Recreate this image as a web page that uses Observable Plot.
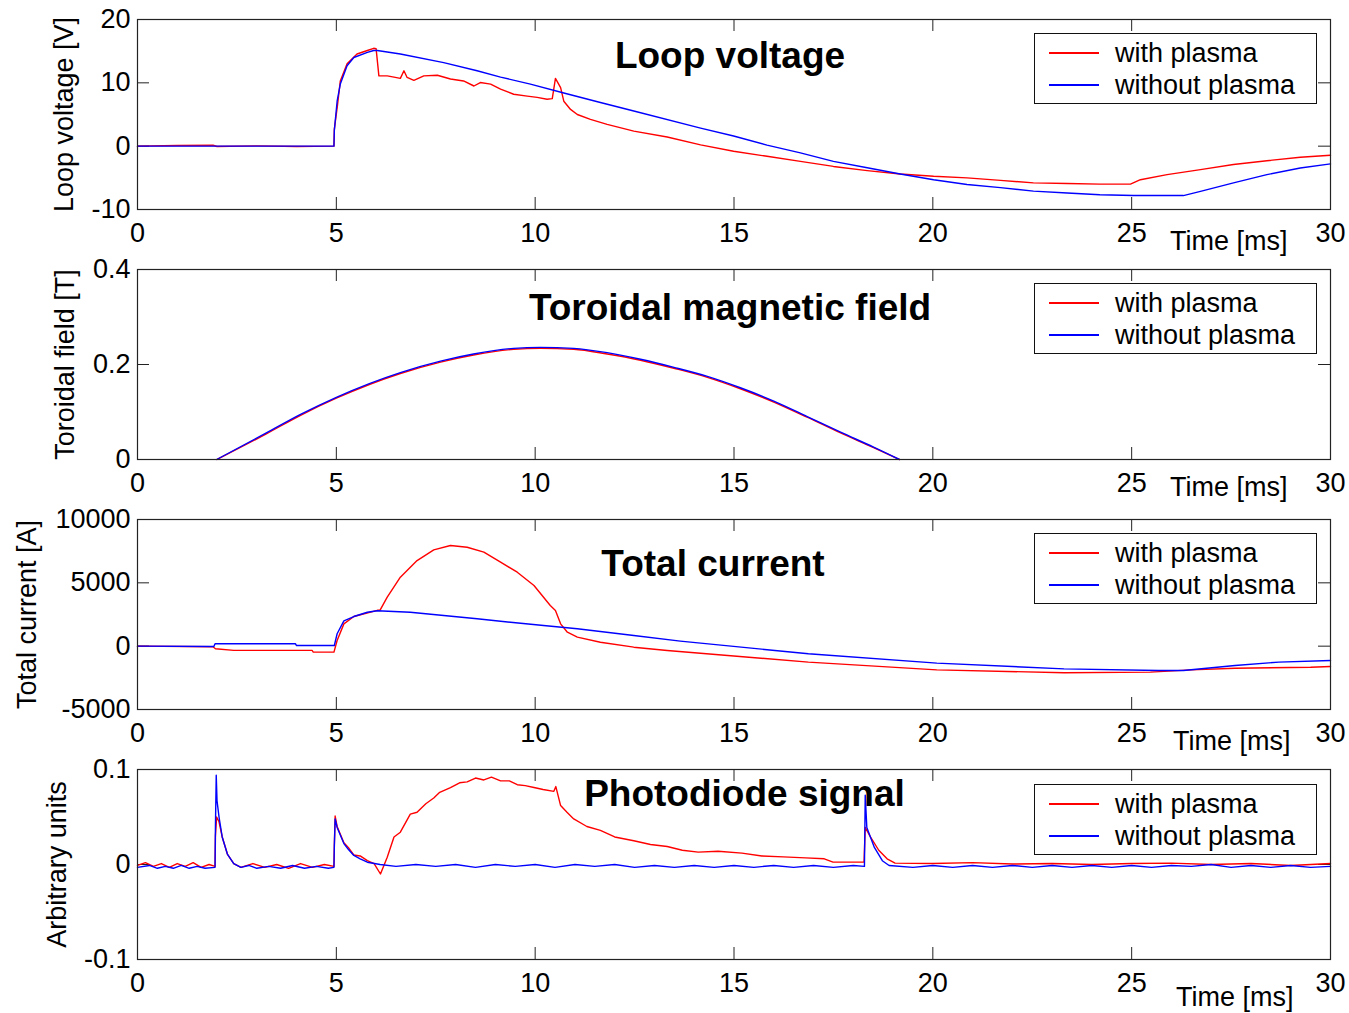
<!DOCTYPE html>
<html>
<head>
<meta charset="utf-8">
<script src="https://cdn.jsdelivr.net/npm/d3@7"></script>
<script src="https://cdn.jsdelivr.net/npm/@observablehq/plot@0.6"></script>
<style>
  html, body { margin: 0; padding: 0; background: #fff; }
  #chart { position: relative; width: 1349px; height: 1013px; font-family: "Liberation Sans", Arial, sans-serif; }
  .panel { position: absolute; left: 0; }
  .legend { position: absolute; left: 1034px; width: 283px; height: 71px; box-sizing: border-box; border: 1px solid #111; background: #fff; }
  .legend .ln { position: absolute; left: 14px; width: 50px; height: 2px; }
  .legend .tx { position: absolute; left: 80px; height: 38px; line-height: 38px; font-size: 27px; color: #000; white-space: nowrap; }
</style>
</head>
<body>
<div id="chart"></div>
<script>
// ---------- labels ----------
const seriesNames = ["with plasma", "without plasma"];
const seriesColors = ["#ff0000", "#0000ff"];
const titles = ["Loop voltage", "Toroidal magnetic field", "Total current", "Photodiode signal"];
const yLabels = ["Loop voltage [V]", "Toroidal field [T]", "Total current [A]", "Arbitrary units"];
const xLabel = "Time [ms]";
const xTicks = [0, 5, 10, 15, 20, 25, 30];
const yTicksLoop = [-10, 0, 10, 20];
const yTicksField = [0, 0.2, 0.4];
const yTicksCurrent = [-5000, 0, 5000, 10000];
const yTicksDiode = [-0.1, 0, 0.1];

// ---------- data: [time ms, value] ----------
const loopWith = [[0,0],[1,0.1],[1.9,0.15],[2,-0.05],[3,0.05],[4,-0.05],[4.94,0],[4.95,2.7],[5.03,6.5],[5.1,10.3],[5.27,13.0],[5.52,14.55],[5.78,15.1],[5.94,15.45],[6.0,15.4],[6.07,11.1],[6.28,11.1],[6.45,10.9],[6.61,10.7],[6.7,11.9],[6.78,10.85],[6.95,10.4],[7.2,11.1],[7.54,11.2],[7.87,10.6],[8.2,10.3],[8.46,9.5],[8.62,10.05],[8.88,9.8],[9.13,9.0],[9.46,8.2],[9.8,7.9],[10.05,7.7],[10.3,7.4],[10.43,7.5],[10.51,10.7],[10.64,9.25],[10.72,7.1],[10.89,5.8],[11.06,5.0],[11.39,4.24],[11.81,3.44],[12.48,2.38],[13.32,1.45],[14.16,0.2],[14.99,-0.8],[15.83,-1.6],[16.67,-2.4],[17.5,-3.2],[18.35,-3.86],[19.18,-4.4],[20.02,-4.76],[20.86,-5.0],[21.7,-5.4],[22.53,-5.8],[23.38,-5.9],[24.2,-6.0],[24.97,-6.0],[25.22,-5.3],[25.89,-4.5],[26.73,-3.7],[27.56,-2.9],[28.4,-2.3],[29.24,-1.75],[30,-1.43]];
const loopWithout = [[0,0],[4.94,0],[4.95,2.5],[5.02,7.1],[5.1,9.8],[5.27,12.7],[5.44,14.0],[5.78,14.8],[5.94,15.1],[6.03,15.1],[6.61,14.55],[7.7,13.2],[8.54,11.9],[9.13,10.9],[9.88,9.8],[10.72,8.4],[11.64,6.9],[12.48,5.56],[14.16,2.85],[14.99,1.6],[15.83,0.16],[16.67,-1.06],[17.5,-2.4],[18.35,-3.4],[19.18,-4.4],[20.02,-5.3],[20.86,-6.05],[21.7,-6.55],[22.53,-7.1],[23.38,-7.4],[24.2,-7.67],[25.05,-7.8],[26.3,-7.8],[26.73,-7.14],[27.56,-5.8],[28.4,-4.5],[29.24,-3.44],[30,-2.8]];

const fieldWith = [[2.0,0],[3.24,0.054],[4.1,0.093],[5.0,0.129],[6.61,0.181],[7.62,0.205],[8.45,0.220],[9.46,0.232],[10.13,0.234],[10.97,0.232],[11.81,0.222],[12.65,0.209],[13.49,0.192],[14.33,0.173],[15.16,0.149],[16.0,0.121],[16.84,0.089],[17.68,0.056],[18.51,0.025],[19.16,0]];
const fieldWithout = [[1.99,0],[3.24,0.056],[4.1,0.095],[5.0,0.131],[6.61,0.183],[7.62,0.207],[8.45,0.222],[9.46,0.234],[10.13,0.236],[10.97,0.234],[11.81,0.225],[12.65,0.211],[13.49,0.194],[14.33,0.175],[15.16,0.151],[16.0,0.123],[16.84,0.0905],[17.68,0.0575],[18.51,0.026],[19.16,0]];

const currentWith = [[0,0],[1.9,-50],[1.96,-200],[2.42,-330],[4.39,-330],[4.42,-470],[4.94,-470],[5.02,450],[5.19,1760],[5.44,2340],[6.03,2830],[6.1,2850],[6.28,3870],[6.61,5450],[7.03,6760],[7.45,7600],[7.87,7950],[8.29,7810],[8.71,7420],[9.13,6630],[9.55,5840],[9.97,4790],[10.38,3210],[10.51,2820],[10.64,1760],[10.81,1100],[11.06,710],[11.64,310],[12.48,-80],[13.32,-340],[16.87,-1260],[20.1,-1870],[23.3,-2100],[25.47,-2050],[26.5,-1870],[27.6,-1740],[29.5,-1660],[30,-1600]];
const currentWithout = [[0,0],[1.92,-30],[1.95,190],[3.97,190],[4.0,50],[4.95,50],[5.02,980],[5.19,2000],[5.44,2340],[5.78,2680],[6.03,2800],[6.86,2680],[7.7,2420],[8.54,2160],[9.38,1890],[10.21,1630],[11.06,1370],[12.48,840],[13.65,400],[16.87,-600],[20.1,-1340],[23.3,-1790],[25.67,-1920],[26.3,-1920],[27.6,-1530],[28.7,-1260],[30,-1130]];

const diodeWith = [[0,-0.001],[0.2,0.002],[0.4,-0.002],[0.6,0.001],[0.8,-0.003],[1.0,0.001],[1.2,-0.002],[1.4,0.002],[1.6,-0.003],[1.8,0.0],[1.95,-0.002],[1.96,0.03],[1.99,0.05],[2.05,0.045],[2.13,0.029],[2.26,0.011],[2.42,0.001],[2.6,-0.003],[2.9,0.001],[3.2,-0.003],[3.5,0.0],[3.8,-0.004],[4.1,0.001],[4.4,-0.003],[4.7,0.0],[4.94,-0.002],[4.95,0.02],[4.97,0.051],[5.02,0.04],[5.19,0.023],[5.3,0.018],[5.44,0.01],[5.6,0.009],[5.78,0.004],[5.95,0.001],[6.11,-0.01],[6.28,0.0077],[6.45,0.029],[6.61,0.034],[6.86,0.053],[7.03,0.055],[7.25,0.064],[7.45,0.07],[7.6,0.076],[7.87,0.081],[8.1,0.086],[8.29,0.087],[8.5,0.091],[8.71,0.089],[8.9,0.092],[9.13,0.088],[9.35,0.088],[9.55,0.084],[9.75,0.083],[9.97,0.081],[10.2,0.079],[10.47,0.077],[10.52,0.082],[10.64,0.062],[10.8,0.055],[10.97,0.048],[11.3,0.04],[11.64,0.036],[12.0,0.029],[12.48,0.025],[12.9,0.021],[13.32,0.019],[13.7,0.015],[14.1,0.013],[14.6,0.014],[15.2,0.012],[15.7,0.009],[16.24,0.008],[16.8,0.007],[17.27,0.006],[17.49,0.0025],[18.27,0.0025],[18.3,0.039],[18.43,0.029],[18.64,0.015],[18.85,0.006],[19.05,0.0014],[20,0.001],[21,0.002],[22,0.0005],[23,0.001],[24,0.0],[25,0.001],[26,0.0015],[27,0.0],[28,0.001],[29,-0.001],[30,0.001]];
const diodeWithout = [[0,-0.003],[0.3,-0.001],[0.5,-0.004],[0.7,-0.002],[0.9,-0.004],[1.1,-0.001],[1.3,-0.004],[1.5,-0.002],[1.7,-0.004],[1.95,-0.003],[1.96,0.04],[1.98,0.094],[2.0,0.067],[2.05,0.05],[2.13,0.029],[2.26,0.011],[2.42,0.001],[2.6,-0.003],[2.8,-0.001],[3.0,-0.004],[3.3,-0.002],[3.6,-0.004],[3.9,-0.001],[4.2,-0.004],[4.5,-0.002],[4.8,-0.004],[4.94,-0.003],[4.95,0.02],[4.97,0.048],[5.02,0.039],[5.19,0.022],[5.3,0.016],[5.44,0.0095],[5.6,0.006],[5.78,0.0024],[6.1,0.0],[6.5,-0.002],[7.0,0.0],[7.5,-0.002],[8.0,0.0],[8.5,-0.003],[9.0,0.0],[9.5,-0.002],[10.0,0.0],[10.5,-0.003],[11.0,0.0],[11.5,-0.002],[12.0,0.0],[12.5,-0.003],[13.0,-0.001],[13.5,-0.003],[14.0,-0.001],[14.5,-0.003],[15.0,-0.001],[15.5,-0.003],[16.0,-0.001],[16.5,-0.003],[17.0,-0.001],[17.5,-0.003],[18.0,-0.001],[18.28,-0.002],[18.3,0.073],[18.34,0.039],[18.53,0.018],[18.73,0.004],[18.9,-0.001],[19.5,-0.003],[20,-0.001],[20.5,-0.003],[21,-0.001],[21.5,-0.003],[22,-0.001],[22.5,-0.003],[23,-0.001],[23.5,-0.003],[24,-0.001],[24.5,-0.003],[25,-0.001],[25.5,-0.003],[26,-0.001],[26.5,-0.002],[27,0.0],[27.5,-0.003],[28,-0.001],[28.5,-0.003],[29,-0.001],[29.5,-0.003],[30,-0.002]];

// ---------- layout ----------
const W = 1349, ML = 137, MR = 19, MT = 19, FH = 190;
const FW = W - ML - MR;
const panels = [
  {top: 0,   height: 250, yDomain: [-10, 20],     yTicks: yTicksLoop,    series: [loopWith, loopWithout],       title: titles[0], titleX: 729.5, titleDy: 48, yLabel: yLabels[0], yLabelDx: -65,  timeX: 1287, timeDy: 40, legendTop: 14, curve: "linear"},
  {top: 250, height: 250, yDomain: [0, 0.4],      yTicks: yTicksField,   series: [fieldWith, fieldWithout],     title: titles[1], titleX: 729.5, titleDy: 50, yLabel: yLabels[1], yLabelDx: -64,  timeX: 1287, timeDy: 36, legendTop: 14, curve: "monotone-x"},
  {top: 500, height: 250, yDomain: [-5000, 10000],yTicks: yTicksCurrent, series: [currentWith, currentWithout],title: titles[2], titleX: 712.5, titleDy: 56, yLabel: yLabels[2], yLabelDx: -102, timeX: 1290, timeDy: 40, legendTop: 14, curve: "linear"},
  {top: 750, height: 263, yDomain: [-0.1, 0.1],   yTicks: yTicksDiode,   series: [diodeWith, diodeWithout],     title: titles[3], titleX: 744,   titleDy: 36, yLabel: yLabels[3], yLabelDx: -72,  timeX: 1293, timeDy: 46, legendTop: 15, curve: "linear"}
];

const chart = document.getElementById("chart");
const axisColor = "#222";
const fmt = d => String(d);

panels.forEach(p => {
  const mb = p.height - MT - FH;
  const plot = Plot.plot({
    width: W,
    height: p.height,
    marginLeft: ML, marginRight: MR, marginTop: MT, marginBottom: mb,
    x: {domain: [0, 30]},
    y: {domain: p.yDomain},
    style: {fontFamily: '"Liberation Sans", Arial, sans-serif', fontSize: "27px", overflow: "visible", background: "transparent", color: "#000"},
    marks: [
      // inward ticks on all four sides
      Plot.ruleX(xTicks, {x: d => d, insetTop: FH - 12, stroke: axisColor}),
      Plot.ruleX(xTicks, {x: d => d, insetBottom: FH - 12, stroke: axisColor}),
      Plot.ruleY(p.yTicks, {y: d => d, insetRight: FW - 12, stroke: axisColor}),
      Plot.ruleY(p.yTicks, {y: d => d, insetLeft: FW - 12, stroke: axisColor}),
      Plot.axisX(xTicks, {anchor: "bottom", tickSize: 0, tickPadding: 13, tickFormat: fmt, label: null, fill: "#000"}),
      Plot.axisY(p.yTicks, {anchor: "left", tickSize: 0, tickPadding: 7, tickFormat: fmt, label: null, fill: "#000"}),
      Plot.text([p.title], {frameAnchor: "top-left", dx: p.titleX - ML, dy: p.titleDy, textAnchor: "middle", lineAnchor: "bottom", fontWeight: "bold", fontSize: 37, fill: "#000"}),
      Plot.text([p.yLabel], {frameAnchor: "left", dx: p.yLabelDx, rotate: -90, textAnchor: "middle", lineAnchor: "bottom", fill: "#000"}),
      Plot.text([xLabel], {frameAnchor: "bottom-right", dx: p.timeX - (W - MR), dy: p.timeDy, textAnchor: "end", lineAnchor: "bottom", fill: "#000"}),
      Plot.line(p.series[0], {x: d => d[0], y: d => d[1], stroke: seriesColors[0], strokeWidth: 1.4, curve: p.curve}),
      Plot.line(p.series[1], {x: d => d[0], y: d => d[1], stroke: seriesColors[1], strokeWidth: 1.4, curve: p.curve}),
      Plot.frame({stroke: axisColor, strokeWidth: 1.2})
    ]
  });
  const wrap = document.createElement("div");
  wrap.className = "panel";
  wrap.style.top = p.top + "px";
  wrap.appendChild(plot);
  chart.appendChild(wrap);

  const lg = document.createElement("div");
  lg.className = "legend";
  lg.style.top = (p.top + MT + p.legendTop) + "px";
  seriesNames.forEach((name, i) => {
    const ln = document.createElement("div");
    ln.className = "ln";
    ln.style.top = (18 + 32 * i) + "px";
    ln.style.background = seriesColors[i];
    const tx = document.createElement("div");
    tx.className = "tx";
    tx.style.top = (0 + 32 * i) + "px";
    tx.textContent = name;
    lg.appendChild(ln);
    lg.appendChild(tx);
  });
  chart.appendChild(lg);
});
</script>
</body>
</html>
